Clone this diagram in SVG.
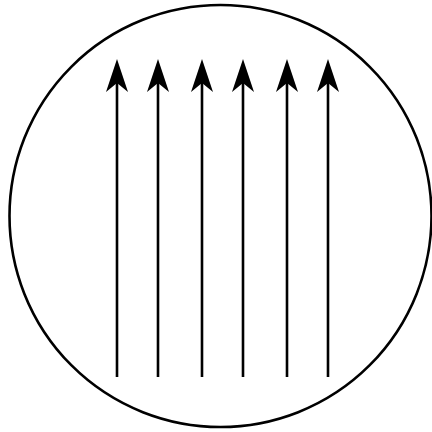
<svg xmlns="http://www.w3.org/2000/svg" width="432" height="432" viewBox="0 0 432 432">
<defs>
<style>
.ln{stroke:#000;stroke-width:2.6;fill:none}
.ah{fill:#000;stroke:none}
</style>
<path id="head" class="ah" d="M0,0 L11,33 L0,24 L-11,33 Z"/>
</defs>
<rect width="432" height="432" fill="#fff"/>
<circle id="circle" cx="220.5" cy="216" r="211" class="ln"/>
<g id="connectors">
<g id="a1"><line class="ln" x1="117" y1="377" x2="117" y2="75"/><use href="#head" x="117" y="59"/></g>
<g id="a2"><line class="ln" x1="158" y1="377" x2="158" y2="75"/><use href="#head" x="158" y="59"/></g>
<g id="a3"><line class="ln" x1="202" y1="377" x2="202" y2="75"/><use href="#head" x="202" y="59"/></g>
<g id="a4"><line class="ln" x1="243" y1="377" x2="243" y2="75"/><use href="#head" x="243" y="59"/></g>
<g id="a5"><line class="ln" x1="287" y1="377" x2="287" y2="75"/><use href="#head" x="287" y="59"/></g>
<g id="a6"><line class="ln" x1="328" y1="377" x2="328" y2="75"/><use href="#head" x="328" y="59"/></g>
</g>
</svg>
